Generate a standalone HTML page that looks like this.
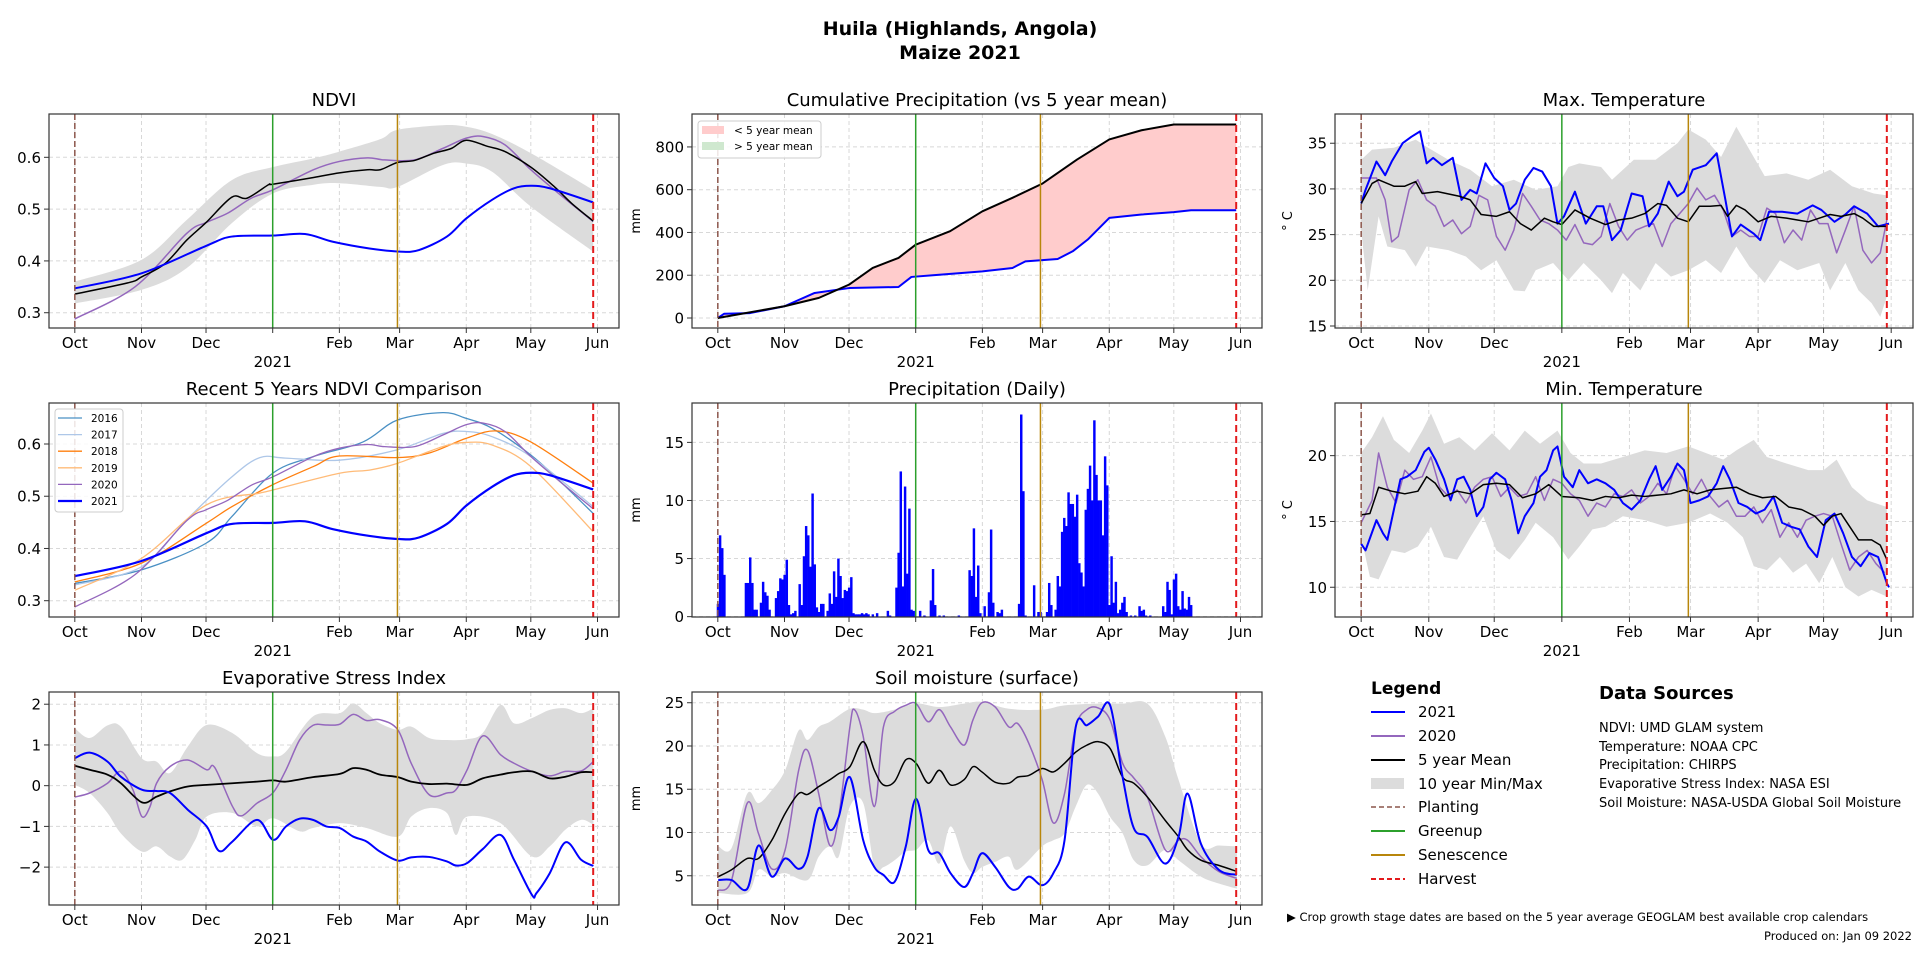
<!DOCTYPE html>
<html><head><meta charset="utf-8"><style>
html,body{margin:0;padding:0;background:#fff;}
svg{display:block;font-family:"DejaVu Sans","Liberation Sans",sans-serif;}
</style></head><body>
<svg id="fig" width="1920" height="960" viewBox="0 0 1920 960" xmlns="http://www.w3.org/2000/svg">
<rect width="1920" height="960" fill="#fff"/>
<text x="960" y="35" text-anchor="middle" font-weight="bold" font-size="19">Huila (Highlands, Angola)</text>
<text x="960" y="59" text-anchor="middle" font-weight="bold" font-size="19">Maize 2021</text>
<g id="panels"></g>
<g font-size="15">
<text x="1371" y="694" font-weight="bold" font-size="17">Legend</text>
<line x1="1371" x2="1405" y1="712" y2="712" stroke="#0000ff" stroke-width="2"/><text x="1418" y="717">2021</text>
<line x1="1371" x2="1405" y1="736" y2="736" stroke="#9467bd" stroke-width="2"/><text x="1418" y="741">2020</text>
<line x1="1371" x2="1405" y1="760" y2="760" stroke="#000" stroke-width="2"/><text x="1418" y="765">5 year Mean</text>
<rect x="1371" y="778" width="33" height="11" fill="#dcdcdc"/><text x="1418" y="789">10 year Min/Max</text>
<line x1="1371" x2="1405" y1="807" y2="807" stroke="#8c564b" stroke-width="1.5" stroke-dasharray="5,3"/><text x="1418" y="812">Planting</text>
<line x1="1371" x2="1405" y1="831" y2="831" stroke="#2ca02c" stroke-width="2"/><text x="1418" y="836">Greenup</text>
<line x1="1371" x2="1405" y1="855" y2="855" stroke="#b8860b" stroke-width="2"/><text x="1418" y="860">Senescence</text>
<line x1="1371" x2="1405" y1="879" y2="879" stroke="#e31a1c" stroke-width="2" stroke-dasharray="5,3"/><text x="1418" y="884">Harvest</text>
</g>
<g font-size="13">
<text x="1599" y="699" font-weight="bold" font-size="18">Data Sources</text>
<text x="1599" y="732">NDVI: UMD GLAM system</text>
<text x="1599" y="751">Temperature: NOAA CPC</text>
<text x="1599" y="769">Precipitation: CHIRPS</text>
<text x="1599" y="788">Evaporative Stress Index: NASA ESI</text>
<text x="1599" y="807">Soil Moisture: NASA-USDA Global Soil Moisture</text>
</g>
<text x="1287" y="921" font-size="11.5">▶ Crop growth stage dates are based on the 5 year average GEOGLAM best available crop calendars</text>
<text x="1912" y="940" font-size="11.5" text-anchor="end">Produced on: Jan 09 2022</text>
</svg>
<script>
// ---------------- data (day = days since Oct 1 2020) ----------------
const monthTickDays=[0,31,61,92,123,151,182,212,243];
const monthTickLabels=["Oct","Nov","Dec","","Feb","Mar","Apr","May","Jun"];
const eventDays=[0,92,150,241];

const ndviDays2021=[0,31,61,73,92,107,120,137,151,160,173,182,194,204,212,221,241];
const ndvi2021=[0.347,0.376,0.429,0.447,0.449,0.452,0.437,0.424,0.418,0.421,0.447,0.482,0.518,0.540,0.545,0.540,0.513];
const ndviDaysMean=[0,25,31,42,52,61,73,80,90,92,111,123,136,142,150,158,167,175,182,192,200,212,223,231,241];
const ndviMean=[0.336,0.358,0.369,0.395,0.44,0.474,0.523,0.521,0.547,0.548,0.561,0.570,0.576,0.576,0.590,0.594,0.608,0.617,0.633,0.621,0.611,0.581,0.543,0.511,0.477];
const ndviDays2020=[0,28,52,61,71,82,92,111,123,136,144,158,171,182,190,200,212,225,241];
const ndvi2020=[0.288,0.350,0.453,0.474,0.492,0.521,0.537,0.576,0.592,0.599,0.595,0.595,0.617,0.637,0.640,0.624,0.576,0.530,0.476];
const ndviBandDays=[0,31,52,73,92,111,123,142,150,171,182,194,212,241];
const ndviMax=[0.360,0.402,0.479,0.556,0.581,0.598,0.611,0.635,0.653,0.662,0.659,0.645,0.608,0.537];
const ndviMin=[0.318,0.344,0.386,0.473,0.530,0.547,0.550,0.543,0.543,0.585,0.588,0.572,0.505,0.418];

const n16Days=[0,31,61,73,92,111,134,150,171,182,194,212,225,241];
const n2016=[0.333,0.359,0.410,0.461,0.544,0.576,0.604,0.646,0.660,0.649,0.630,0.579,0.531,0.467];
const n17Days=[0,31,52,73,86,98,123,150,171,182,194,212,241];
const n2017=[0.33,0.365,0.455,0.537,0.574,0.573,0.569,0.589,0.620,0.624,0.614,0.576,0.480];
const n18Days=[0,31,61,73,92,111,123,150,165,182,196,212,241];
const n2018=[0.336,0.372,0.448,0.480,0.522,0.557,0.577,0.574,0.583,0.611,0.625,0.604,0.525];
const n19Days=[0,31,61,86,92,123,137,150,171,182,194,212,241];
const n2019=[0.32,0.381,0.483,0.506,0.512,0.544,0.550,0.563,0.595,0.603,0.598,0.557,0.432];

const cumDaysMean=[0,31,47,61,72,84,92,108,123,137,151,167,182,197,212,241];
const cumMean=[0,55,94,156,234,281,343,406,499,562,629,741,835,878,905,905];
const cumDays2021=[0,3,15,31,45,61,84,90,100,123,137,143,158,165,172,182,197,212,220,241];
const cum2021=[0,20,23,55,117,140,145,192,200,218,234,265,276,312,367,468,484,495,504,504];

const rainDays=[0,1,2,3,13,14,15,16,17,18,20,21,22,23,24,27,28,29,30,31,32,33,34,35,36,38,39,40,41,42,43,44,45,46,47,48,49,51,52,53,54,55,56,57,58,59,60,61,62,63,64,65,66,67,68,69,70,72,74,79,80,83,84,85,86,87,88,89,90,91,94,96,99,100,101,103,105,112,117,118,119,120,121,122,124,126,127,128,130,131,132,140,141,142,143,147,149,150,153,154,155,157,158,159,160,161,162,163,164,165,166,167,168,169,170,171,172,173,174,175,176,177,178,179,180,181,182,183,184,185,186,187,188,189,190,192,194,196,197,198,199,201,207,208,209,210,211,212,213,214,215,216,217,218,219,220];
const rain=[1.1,7.0,5.9,3.6,2.9,2.9,5.1,2.9,0.6,0.6,1.2,3.0,2.1,1.8,0.6,1.6,2.2,3.3,3.2,3.6,4.9,1.0,0.2,0.3,0.5,2.8,1.0,5.2,7.8,7.0,4.3,10.6,4.5,0.8,0.4,1.1,1.1,0.5,2.0,1.1,3.9,1.7,5.0,3.5,1.6,2.3,2.2,2.5,3.4,0.3,0.2,0.2,0.2,0.3,0.2,0.3,0.2,0.2,0.3,0.5,0.1,2.5,5.5,12.5,2.6,11.2,3.7,9.3,0.6,0.5,0.5,0.1,1.4,4.1,1.0,0.1,0.1,0.1,4.0,3.5,7.6,1.7,4.4,0.3,0.9,2.1,7.5,1.2,0.4,0.3,0.6,1.1,17.4,10.8,0.1,2.7,0.4,0.4,0.4,2.9,1.0,0.6,3.5,2.6,7.3,8.5,7.8,10.7,9.7,9.7,8.6,10.5,4.6,3.8,2.6,9.2,11.0,13.0,10.0,16.9,12.2,10.0,10.0,7.0,13.8,11.3,1.0,5.2,1.2,3.0,0.3,0.6,1.2,1.7,0.4,0.1,0.1,0.9,0.5,0.6,0.1,0.1,0.9,0.4,3.0,2.3,0.2,3.2,3.7,0.9,0.6,2.2,0.7,0.6,1.7,1.0];

const tmaxDays2021=[0,2,7,11,14,19,23,27,30,33,37,42,46,50,53,57,61,65,68,71,75,79,83,87,90,93,98,103,108,111,115,119,124,129,132,136,141,145,148,152,158,163,167,170,174,180,183,187,193,200,207,211,217,222,226,232,237,242];
const tmax2021=[28.4,29.9,33.0,31.5,33,35,35.7,36.3,32.8,33.4,32.6,33.4,28.8,29.9,29.5,32.8,31.2,30.3,27.7,28.4,31,32.3,31.9,30.3,26.2,27,29.7,26.2,28.1,28.1,24.4,25.5,29.5,29.2,25.9,27.3,30.8,29.2,29.7,32.1,32.6,33.9,28.8,24.8,26.1,25.1,24.4,27.5,27.5,27.3,28.2,27.7,26.4,27.2,28.1,27.3,25.9,26.2];
const tmaxDays2020=[0,7,11,14,17,22,26,30,34,38,42,46,50,54,58,62,66,70,74,78,82,86,90,94,98,102,106,110,114,118,122,126,130,134,138,142,146,150,154,158,162,166,170,174,178,182,186,190,194,198,202,206,210,214,218,222,226,230,234,238,241];
const tmax2020=[31.2,31.2,28.8,24.2,24.8,29.9,31,28.8,28.1,25.9,26.6,25.1,25.9,29.3,28.8,24.8,23.3,25.5,29.5,28.1,26.6,26.2,25.5,24.4,26.1,24.1,23.9,24.8,28.4,25.9,24.4,25.5,25.9,26.2,23.7,26.2,27.3,28.4,30.1,28.8,29.3,27.7,24.8,25.5,24.8,24.8,27.9,27.3,24.1,25.5,24.4,27.7,26.2,26.2,23.0,25.5,28.1,23.3,21.9,23.0,26.6];
const tmaxDaysMean=[0,5,8,15,20,25,28,35,45,50,55,62,68,73,78,84,88,92,98,105,112,118,124,130,136,140,145,150,155,160,165,168,172,176,182,188,195,200,205,210,215,220,226,230,235,241];
const tmaxMean=[28.4,30.6,31,30.3,30.3,30.8,29.5,29.7,29.2,28.8,27.2,27,27.5,26.2,25.5,26.8,26.4,26.1,27.7,26.8,26.1,26.6,26.8,27.3,28.4,28.2,26.8,26.4,28.1,28.1,28.2,27,28.2,27.7,26.4,27,26.8,26.6,26.4,26.8,27.2,27,27.3,26.8,25.9,25.9];
const tmaxBandDaysHi=[0,5,15,25,30,40,50,60,70,80,90,95,100,110,115,125,135,145,150,158,165,172,178,185,195,205,215,225,235,241];
const tmaxHi=[33.2,34.3,34.5,35.4,34.6,33.2,32.1,30.3,31,29.9,30.3,32.4,32.8,32.4,31,33.2,33.2,35,36.5,35.4,33.5,36.8,34.3,31.4,31.7,31,32.1,30.3,29.5,29.3];
const tmaxBandDaysLo=[0,3,8,12,20,25,30,40,48,55,62,70,75,80,88,95,102,110,115,120,128,135,142,150,158,165,172,178,185,192,200,210,215,222,228,234,238,241];
const tmaxLo=[25.5,18.9,27,23.7,23.3,21.5,23.7,23.3,22.6,21.1,22.2,18.9,18.8,21.1,21.9,20,21.9,20,18.6,20.8,18.9,21.9,20.4,21.1,22.2,20.8,23.7,21.5,19.7,22.2,21.1,21.9,18.9,21.9,18.9,17.5,16,18.2];

const tminDays2021=[0,2,7,10,12,15,18,21,25,29,31,34,38,41,44,47,50,53,56,59,62,66,69,72,75,79,82,85,88,90,93,97,100,104,108,112,116,120,124,128,132,135,138,142,145,148,151,155,159,163,166,169,173,177,181,185,189,193,197,201,205,209,213,217,221,225,229,233,237,241,242];
const tmin2021=[13.3,12.8,15.1,14.1,13.6,15.9,18.2,18.4,18.9,20.3,20.6,19.7,18.2,16.6,18.2,18.4,17.4,15.4,16.1,18.2,18.7,18.2,16.6,14.1,15.4,16.4,18.4,18.9,20.4,20.7,18.4,17.6,18.9,17.9,18.2,17.9,17.4,16.4,15.9,16.6,18.2,19.2,17.4,18.4,19.4,18.9,16.4,16.6,16.9,17.9,19.2,18.2,16.4,16.1,15.6,15.9,16.9,14.9,14.6,14.4,13.1,12.3,15.1,15.6,14.1,12.3,11.6,12.6,12.3,10.3,10];
const tminDays2020=[0,5,8,12,16,20,24,28,32,36,40,44,48,52,56,60,64,68,72,76,80,84,88,92,96,100,104,108,112,116,120,124,128,132,136,140,144,148,152,156,160,164,168,172,176,180,184,188,192,196,200,204,208,212,216,220,224,228,232,236,240];
const tmin2020=[14.9,16.6,20.2,17.6,16.4,18.9,18.2,18.4,19.9,17.6,16.9,17.4,16.4,17.6,18.2,18.4,16.9,17.6,16.9,17.1,18.4,16.6,18.2,17.9,17.1,16.6,15.4,16.4,16.1,17.1,16.9,17.4,16.4,16.9,17.9,17.1,19.2,18.2,17.1,18.2,16.9,16.1,16.6,15.4,15.4,16.1,14.9,15.9,13.8,14.9,13.8,15.1,15.4,15.6,15.4,13.3,11.3,12.3,12.8,11.8,11.1];
const tminDaysMean=[0,4,8,14,20,26,30,34,38,44,50,56,62,68,74,80,86,92,100,106,112,118,124,130,136,142,148,154,160,166,172,178,184,190,196,202,208,212,216,220,224,228,234,238,241];
const tminMean=[15.5,15.6,17.6,17.3,17.1,17.3,18.4,17.9,16.9,17.3,17.1,17.8,17.9,17.8,16.8,17.1,17.8,16.9,16.8,16.6,16.9,16.8,17,16.9,17,17.1,17.4,17.1,17.4,17.5,17.6,17.1,16.8,16.9,16.1,15.9,15.4,14.7,15.4,15.6,14.6,13.6,13.6,13.2,12.1];
const tminBandDaysHi=[0,5,10,15,22,28,32,38,45,52,60,68,75,82,90,96,102,110,120,130,140,150,158,166,172,180,186,195,205,212,218,225,232,241];
const tminHi=[20.2,21.4,23,21.2,20.2,21.9,23.2,20.9,21.4,20.4,21.7,20.4,21.9,20.9,21.9,20.2,19.4,19.4,19.9,20.4,20.2,20.7,20.2,19.7,20.4,21.2,19.9,19.4,18.9,18.9,19.7,17.6,16.6,16.1];
const tminBandDaysLo=[0,4,8,14,20,26,32,38,44,50,56,62,68,75,80,88,95,100,106,112,120,130,140,150,160,168,175,180,186,192,198,204,210,216,222,228,234,241];
const tminLo=[13.8,10.8,10.6,12.8,12.6,13.1,14.6,12.3,12.1,13.8,15.4,12.8,12.1,13.6,14.9,13.8,12.1,13.1,14.4,14.6,15.4,15.1,14.6,14.9,15.6,14.9,13.8,11.6,11.3,12.3,11.1,11.8,10.3,12.3,10,9.3,9.8,9.3];

const esiDays2021=[0,6.9,15.2,21.4,31.2,38,44.3,52.5,61.3,67,73.3,84.7,92.2,98.2,104.5,110.7,116.9,123.2,129.4,135.6,141.9,150.2,156.4,164.7,173,177.2,182.4,189.6,197.9,204.2,212.5,214.6,220.8,228.1,235.4,241.1];
const esi2021=[0.675,0.81,0.59,0.22,-0.10,-0.13,-0.18,-0.59,-1.0,-1.6,-1.37,-0.84,-1.33,-1.0,-0.81,-0.84,-1.0,-1.04,-1.25,-1.37,-1.62,-1.84,-1.76,-1.75,-1.86,-1.96,-1.90,-1.56,-1.21,-1.82,-2.68,-2.64,-2.15,-1.39,-1.82,-1.97];
const esiDaysMean=[0,6.9,15.2,21.4,31.2,38,44.3,52.5,61.3,73.3,84.7,92.2,98.2,110.7,123.2,129.4,135.6,141.9,150.2,156.4,164.7,173,182.4,189.6,197.9,204.2,212.5,220.8,228.1,235.4,241.1];
const esiMean=[0.49,0.39,0.27,0.06,-0.41,-0.27,-0.14,-0.02,0.02,0.06,0.10,0.13,0.10,0.21,0.29,0.43,0.39,0.27,0.21,0.10,0.04,0.05,0.02,0.18,0.27,0.33,0.35,0.18,0.22,0.33,0.33];
const esiDays2020=[0,6.9,15.2,21.4,27,31.2,35,38,44.3,52.5,61.3,65,73.3,77.5,84.7,92.2,98.2,104.5,110.7,116.9,123.2,129.4,135.6,141.9,150.2,156.4,164.7,173,177.2,182.4,189.6,197.9,204.2,212.5,220.8,228.1,235.4,241.1];
const esi2020=[-0.28,-0.18,0.06,0.35,-0.10,-0.76,-0.51,0.06,0.47,0.63,0.39,0.45,-0.51,-0.74,-0.43,-0.17,0.39,1.12,1.48,1.49,1.51,1.75,1.60,1.62,1.37,0.55,-0.22,-0.18,-0.10,0.39,1.22,0.76,0.55,0.35,0.24,0.35,0.36,0.59];
const esiBandDaysHi=[0,6.9,15.2,21.4,31.2,38,44.3,52.5,61.3,73.3,84.7,92.2,98.2,110.7,123.2,129.4,135.6,141.9,150.2,156.4,164.7,173,182.4,189.6,197.9,204.2,212.5,220.8,228.1,235.4,241.1];
const esiHi=[1.41,1.17,1.48,1.45,0.67,0.59,0.31,0.96,1.49,1.29,0.80,0.72,0.84,1.70,1.78,2.02,1.78,1.53,1.37,1.45,1.17,1.12,1.14,1.29,1.98,1.53,1.66,1.86,1.90,1.78,1.90];
const esiBandDaysLo=[0,6.9,15.2,21.4,31.2,38,44.3,50,56,61.3,73.3,84.7,92.2,104.5,110.7,123.2,135.6,150.2,156.4,164.7,173,177.2,182.4,197.9,212.5,220.8,228.1,235.4,241.1];
const esiLo=[0.02,-0.18,-0.67,-1.17,-1.62,-1.49,-1.74,-1.82,-1.33,-0.76,-0.67,-1.0,-0.80,-1.12,-1.04,-0.92,-1.04,-1.25,-0.76,-0.55,-0.67,-1.21,-0.76,-0.92,-1.74,-1.49,-1.08,-0.84,-0.96];

const soilDays=[0.2,6.4,13.7,18.9,25.1,31.3,37.6,41.7,46.9,52.1,56.2,61.4,67.6,72.8,77,82.2,87.4,92.2,97.8,103,108.2,114.5,118.6,122.8,129,135.3,139.4,144.6,150.8,156,161.2,166.4,171.6,176.8,182.4,188.2,193.4,199.7,208,214.2,218.4,224.6,232.9,241.3];
const soil2021=[4.5,4.5,3.5,8.5,4.9,7.0,5.8,7.2,12.8,10.3,11.8,16.4,9.1,6.0,5.1,4.3,8.4,13.9,8.0,7.6,5.3,3.7,5.3,7.6,6.0,3.7,3.5,4.9,3.9,5.3,9.1,22.2,22.4,23.4,24.7,16.4,10.5,9.5,6.4,9.5,14.5,8.7,5.7,5.1];
const soilMean=[4.9,5.7,7.0,7.0,9.1,12.2,14.5,14.4,15.3,16.1,16.8,17.6,20.5,17.2,15.5,15.9,18.4,18.0,15.7,17.2,15.5,16.1,17.6,17.0,15.8,15.7,16.4,16.6,17.4,17.0,18.0,19.3,20.1,20.5,19.7,16.4,15.7,14.1,11.4,9.5,8.0,6.8,6.2,5.5];
const soilDays2020=[0.2,6.4,13.7,18.9,25.1,31.3,37.6,41.7,46.9,52.1,56.2,61.4,63.5,67.6,72.8,77,82.2,87.4,92.2,97.8,103,108.2,114.5,118.6,122.8,129,135.3,139.4,144.6,150.8,156,161.2,166.4,171.6,176.8,182.4,188.2,193.4,199.7,208,214.2,218.4,224.6,232.9,241.3];
const soil2020=[3.3,4.5,13.4,9.9,5.8,8.0,17.2,19.5,14.5,8.5,11.8,22.2,24.2,21.1,13.0,22.2,24.0,24.7,24.9,22.8,24.2,22.2,20.1,23.0,25.0,24.5,22.2,22.6,20.3,16.1,11.1,14.5,22.2,24.2,24.4,23.0,18.0,16.3,14.1,8.0,9.1,9.1,7.2,5.5,4.7];
const soilBandDaysHi=[0.2,6.4,13.7,18.9,25.1,31.3,37.6,41.7,46.9,52.1,61.4,67.6,72.8,82.2,92.2,103,114.5,122.8,135.3,150.8,161.2,176.8,188.2,199.7,208,214.2,224.6,232.9,241.3];
const soilHi=[8.4,8.2,14.5,13.4,14.9,17.2,21.8,20.7,22.2,22.8,24.3,24.2,23.8,24.2,24.9,24.5,24.9,25.1,24.3,24.2,24.7,24.9,24.9,24.9,21.1,16.1,8.7,8.5,8.4];
const soilBandDaysLo=[0.2,13.7,18.9,25.1,31.3,41.7,46.9,52.1,56.2,61.4,67.6,72.8,77,82.2,87.4,92.2,97.8,103,108.2,114.5,118.6,122.8,129,135.3,139.4,150.8,156,161.2,166.4,171.6,176.8,182.4,188.2,193.4,199.7,208,214.2,224.6,232.9,241.3];
const soilLo=[3.0,3.0,5.7,4.9,5.3,4.5,7.2,8.4,7.2,13.0,13.4,6.0,6.0,6.8,7.8,8.0,9.1,6.4,10.7,6.8,5.3,6.0,6.6,7.2,5.7,8.4,9.1,9.9,13.0,15.5,14.5,11.8,9.9,6.8,6.2,8.0,6.8,4.9,4.1,3.5];

// ---------------- drawing ----------------
const NS="http://www.w3.org/2000/svg";
const root=document.getElementById('panels');
const X0=-12, X1=253;
function mk(tag,parent){const e=document.createElementNS(NS,tag);parent.appendChild(e);return e;}
function smoothPath(pts){
  if(pts.length<2)return '';
  let d='M'+pts[0][0].toFixed(2)+','+pts[0][1].toFixed(2);
  for(let i=0;i<pts.length-1;i++){
    const p0=pts[i-1]||pts[i],p1=pts[i],p2=pts[i+1],p3=pts[i+2]||p2;
    const c1=[p1[0]+(p2[0]-p0[0])/6,p1[1]+(p2[1]-p0[1])/6];
    const c2=[p2[0]-(p3[0]-p1[0])/6,p2[1]-(p3[1]-p1[1])/6];
    d+='C'+c1[0].toFixed(2)+','+c1[1].toFixed(2)+' '+c2[0].toFixed(2)+','+c2[1].toFixed(2)+' '+p2[0].toFixed(2)+','+p2[1].toFixed(2);
  }
  return d;
}
function linePath(pts){return pts.map((p,i)=>(i?'L':'M')+p[0].toFixed(2)+','+p[1].toFixed(2)).join('');}

function makePanel(cfg){
  const g=mk('g',root);
  
  
  const b=cfg.box;
  const sx=d=>b.x+(d-X0)/(X1-X0)*b.w;
  const sy=v=>b.y+b.h-(v-cfg.ydom[0])/(cfg.ydom[1]-cfg.ydom[0])*b.h;
  const clipId='clip-'+cfg.name;
  const cp=mk('clipPath',g);cp.setAttribute('id',clipId);
  const cr=mk('rect',cp);cr.setAttribute('x',b.x);cr.setAttribute('y',b.y);cr.setAttribute('width',b.w);cr.setAttribute('height',b.h);
  // grid
  const grid=mk('g',g);
  
  
  monthTickDays.forEach(d=>{const l=mk('line',grid);l.setAttribute('x1',sx(d));l.setAttribute('x2',sx(d));l.setAttribute('y1',b.y);l.setAttribute('y2',b.y+b.h);l.setAttribute('stroke','#d8d8d8');l.setAttribute('stroke-dasharray','4,3');});
  cfg.yticks.forEach(v=>{const l=mk('line',grid);l.setAttribute('x1',b.x);l.setAttribute('x2',b.x+b.w);l.setAttribute('y1',sy(v));l.setAttribute('y2',sy(v));l.setAttribute('stroke','#d8d8d8');l.setAttribute('stroke-dasharray','4,3');});
  const plot=mk('g',g);plot.setAttribute('clip-path','url(#'+clipId+')');
  cfg.draw(plot,sx,sy);
  // event lines
  const evColors=['#8c564b','#2ca02c','#b8860b','#e31a1c'];
  const evNames=['planting-line','greenup-line','senescence-line','harvest-line'];
  eventDays.forEach((d,i)=>{
    const l=mk('line',plot);
    
    
    l.setAttribute('x1',sx(d));l.setAttribute('x2',sx(d));l.setAttribute('y1',b.y);l.setAttribute('y2',b.y+b.h);
    l.setAttribute('stroke',evColors[i]);
    l.setAttribute('stroke-width',i==3?2:1.5);
    if(i==0)l.setAttribute('stroke-dasharray','6,3');
    if(i==3)l.setAttribute('stroke-dasharray','7,4');
  });
  // frame
  const fr=mk('rect',g);
  
  
  fr.setAttribute('x',b.x);fr.setAttribute('y',b.y);fr.setAttribute('width',b.w);fr.setAttribute('height',b.h);fr.setAttribute('fill','none');fr.setAttribute('stroke','#333');fr.setAttribute('stroke-width','1.2');
  // x ticks
  monthTickDays.forEach((d,i)=>{
    const t=mk('line',g);t.setAttribute('x1',sx(d));t.setAttribute('x2',sx(d));t.setAttribute('y1',b.y+b.h);t.setAttribute('y2',b.y+b.h+5);t.setAttribute('stroke','#333');
    if(monthTickLabels[i]){
      const tx=mk('text',g);
      
      
      tx.setAttribute('x',sx(d));tx.setAttribute('y',b.y+b.h+20);tx.setAttribute('text-anchor','middle');tx.setAttribute('font-size','15');tx.textContent=monthTickLabels[i];
    }
  });
  const yr=mk('text',g);
  
  
  yr.setAttribute('x',sx(92));yr.setAttribute('y',b.y+b.h+39);yr.setAttribute('text-anchor','middle');yr.setAttribute('font-size','15');yr.textContent='2021';
  cfg.yticks.forEach((v,i)=>{
    const t=mk('line',g);t.setAttribute('x1',b.x-5);t.setAttribute('x2',b.x);t.setAttribute('y1',sy(v));t.setAttribute('y2',sy(v));t.setAttribute('stroke','#333');
    const tx=mk('text',g);
    
    
    tx.setAttribute('x',b.x-8);tx.setAttribute('y',sy(v)+5.5);tx.setAttribute('text-anchor','end');tx.setAttribute('font-size','15');tx.textContent=cfg.ytickLabels[i];
  });
  const ti=mk('text',g);
  
  
  ti.setAttribute('x',b.x+b.w/2);ti.setAttribute('y',b.y-8);ti.setAttribute('text-anchor','middle');ti.setAttribute('font-size','18');ti.textContent=cfg.title;
  if(cfg.ylabel){
    const yl=mk('text',g);
    
    
    const lx=b.x-cfg.ylabelOff, ly=b.y+b.h/2;
    yl.setAttribute('x',lx);yl.setAttribute('y',ly);yl.setAttribute('text-anchor','middle');yl.setAttribute('font-size','13');
    yl.setAttribute('transform','rotate(-90 '+lx+' '+ly+')');yl.textContent=cfg.ylabel;
  }
  return {g,sx,sy};
}
function pts(days,vals,sx,sy){return days.map((d,i)=>[sx(d),sy(vals[i])]);}
function addLine(parent,name,days,vals,sx,sy,color,w,smooth){
  const p=mk('path',parent);
  
  
  const P=pts(days,vals,sx,sy);
  p.setAttribute('d',smooth?smoothPath(P):linePath(P));
  p.setAttribute('fill','none');p.setAttribute('stroke',color);p.setAttribute('stroke-width',w);p.setAttribute('stroke-linejoin','round');
  return p;
}
function addBand(parent,name,dHi,hi,dLo,lo,sx,sy,smooth){
  const p=mk('path',parent);
  
  
  const top=pts(dHi,hi,sx,sy), bot=pts(dLo,lo,sx,sy).reverse();
  let d=(smooth?smoothPath(top):linePath(top));
  d+=(smooth?smoothPath(bot):linePath(bot)).replace(/^M/,'L')+'Z';
  p.setAttribute('d',d);p.setAttribute('fill','#dcdcdc');p.setAttribute('stroke','none');
}
const C1={x:49,w:570},C2={x:692,w:570},C3={x:1335,w:578};
const R1={y:114,h:214},R2={y:403,h:214},R3={y:692,h:213};
const box=(c,r)=>({x:c.x,w:c.w,y:r.y,h:r.h});

makePanel({name:'ndvi-panel',title:'NDVI',box:box(C1,R1),ydom:[0.2705,0.6836],yticks:[0.3,0.4,0.5,0.6],ytickLabels:['0.3','0.4','0.5','0.6'],
 draw:(g,sx,sy)=>{
  addBand(g,'ndvi-minmax-band',ndviBandDays,ndviMax,ndviBandDays,ndviMin,sx,sy,true);
  addLine(g,'ndvi-2020-line',ndviDays2020,ndvi2020,sx,sy,'#9467bd',1.5,true);
  addLine(g,'ndvi-mean-line',ndviDaysMean,ndviMean,sx,sy,'#000',1.5,true);
  addLine(g,'ndvi-2021-line',ndviDays2021,ndvi2021,sx,sy,'#0000ff',2,true);
 }});

makePanel({name:'cum-precip-panel',title:'Cumulative Precipitation (vs 5 year mean)',box:box(C2,R1),ydom:[-46.8,954],yticks:[0,200,400,600,800],ytickLabels:['0','200','400','600','800'],ylabel:'mm',ylabelOff:52,
 draw:(g,sx,sy)=>{
  const f=mk('path',g);
  
  
  const top=pts(cumDaysMean,cumMean,sx,sy), bot=pts(cumDays2021,cum2021,sx,sy).reverse();
  f.setAttribute('d',linePath(top)+linePath(bot).replace(/^M/,'L')+'Z');f.setAttribute('fill','#ffcccc');
  addLine(g,'cum-precip-2021-line',cumDays2021,cum2021,sx,sy,'#0000ff',2,false);
  addLine(g,'cum-precip-mean-line',cumDaysMean,cumMean,sx,sy,'#000',2,false);
 }});

makePanel({name:'max-temp-panel',title:'Max. Temperature',box:box(C3,R1),ydom:[14.78,38.2],yticks:[15,20,25,30,35],ytickLabels:['15','20','25','30','35'],ylabel:'° C',ylabelOff:43,
 draw:(g,sx,sy)=>{
  addBand(g,'max-temp-minmax-band',tmaxBandDaysHi,tmaxHi,tmaxBandDaysLo,tmaxLo,sx,sy,false);
  addLine(g,'max-temp-2020-line',tmaxDays2020,tmax2020,sx,sy,'#9467bd',1.5,false);
  addLine(g,'max-temp-2021-line',tmaxDays2021,tmax2021,sx,sy,'#0000ff',2,false);
  addLine(g,'max-temp-mean-line',tmaxDaysMean,tmaxMean,sx,sy,'#000',1.5,false);
 }});

makePanel({name:'ndvi-compare-panel',title:'Recent 5 Years NDVI Comparison',box:box(C1,R2),ydom:[0.2688,0.6785],yticks:[0.3,0.4,0.5,0.6],ytickLabels:['0.3','0.4','0.5','0.6'],
 draw:(g,sx,sy)=>{
  addLine(g,'ndvi-2016-line',n16Days,n2016,sx,sy,'#4a90c4',1.3,true);
  addLine(g,'ndvi-2017-line',n17Days,n2017,sx,sy,'#aec7e8',1.3,true);
  addLine(g,'ndvi-2018-line',n18Days,n2018,sx,sy,'#ff7f0e',1.3,true);
  addLine(g,'ndvi-2019-line',n19Days,n2019,sx,sy,'#ffbb78',1.3,true);
  addLine(g,'ndvi-2020-compare-line',ndviDays2020,ndvi2020,sx,sy,'#9467bd',1.3,true);
  addLine(g,'ndvi-2021-compare-line',ndviDays2021,ndvi2021,sx,sy,'#0000ff',2.2,true);
 }});

makePanel({name:'daily-precip-panel',title:'Precipitation (Daily)',box:box(C2,R2),ydom:[-0.03,18.39],yticks:[0,5,10,15],ytickLabels:['0','5','10','15'],ylabel:'mm',ylabelOff:52,
 draw:(g,sx,sy)=>{
  rainDays.forEach((d,i)=>{
    const r=mk('rect',g);
    
    
    const x0=sx(d-0.5), x1=sx(d+0.5);
    r.setAttribute('x',x0);r.setAttribute('width',x1-x0+0.3);r.setAttribute('y',sy(rain[i]));r.setAttribute('height',sy(0)-sy(rain[i]));r.setAttribute('fill','#0000ff');
  });
 }});

makePanel({name:'min-temp-panel',title:'Min. Temperature',box:box(C3,R2),ydom:[7.74,24.0],yticks:[10,15,20],ytickLabels:['10','15','20'],ylabel:'° C',ylabelOff:43,
 draw:(g,sx,sy)=>{
  addBand(g,'min-temp-minmax-band',tminBandDaysHi,tminHi,tminBandDaysLo,tminLo,sx,sy,false);
  addLine(g,'min-temp-2020-line',tminDays2020,tmin2020,sx,sy,'#9467bd',1.5,false);
  addLine(g,'min-temp-2021-line',tminDays2021,tmin2021,sx,sy,'#0000ff',2,false);
  addLine(g,'min-temp-mean-line',tminDaysMean,tminMean,sx,sy,'#000',1.5,false);
 }});

makePanel({name:'esi-panel',title:'Evaporative Stress Index',box:box(C1,R3),ydom:[-2.93,2.30],yticks:[-2,-1,0,1,2],ytickLabels:['−2','−1','0','1','2'],
 draw:(g,sx,sy)=>{
  addBand(g,'esi-minmax-band',esiBandDaysHi,esiHi,esiBandDaysLo,esiLo,sx,sy,true);
  addLine(g,'esi-2020-line',esiDays2020,esi2020,sx,sy,'#9467bd',1.5,true);
  addLine(g,'esi-mean-line',esiDaysMean,esiMean,sx,sy,'#000',1.8,true);
  addLine(g,'esi-2021-line',esiDays2021,esi2021,sx,sy,'#0000ff',2,true);
 }});

makePanel({name:'soil-moisture-panel',title:'Soil moisture (surface)',box:box(C2,R3),ydom:[1.62,26.24],yticks:[5,10,15,20,25],ytickLabels:['5','10','15','20','25'],ylabel:'mm',ylabelOff:52,
 draw:(g,sx,sy)=>{
  addBand(g,'soil-minmax-band',soilBandDaysHi,soilHi,soilBandDaysLo,soilLo,sx,sy,true);
  addLine(g,'soil-2020-line',soilDays2020,soil2020,sx,sy,'#9467bd',1.5,true);
  addLine(g,'soil-mean-line',soilDays,soilMean,sx,sy,'#000',1.5,true);
  addLine(g,'soil-2021-line',soilDays,soil2021,sx,sy,'#0000ff',2,true);
 }});

// inset legends
(function(){
  const svg=document.getElementById('fig');
  const lg=mk('g',svg);
  
  
  const bx=mk('rect',lg);bx.setAttribute('x',698);bx.setAttribute('y',121);bx.setAttribute('width',123);bx.setAttribute('height',37);bx.setAttribute('rx',3);bx.setAttribute('fill','#fff');bx.setAttribute('fill-opacity','0.85');bx.setAttribute('stroke','#ccc');
  const labs=['< 5 year mean','> 5 year mean'], cols=['#ffcccc','#cfe8cf'];
  labs.forEach((t,i)=>{
    const r=mk('rect',lg);r.setAttribute('x',702);r.setAttribute('y',126+i*16);r.setAttribute('width',22);r.setAttribute('height',8);r.setAttribute('fill',cols[i]);
    const tx=mk('text',lg);
    
    
    tx.setAttribute('x',734);tx.setAttribute('y',134+i*16);tx.setAttribute('font-size','10.5');tx.textContent=t;
  });
  const lg2=mk('g',svg);
  
  
  const b2=mk('rect',lg2);b2.setAttribute('x',55);b2.setAttribute('y',409);b2.setAttribute('width',68);b2.setAttribute('height',103);b2.setAttribute('rx',3);b2.setAttribute('fill','#fff');b2.setAttribute('fill-opacity','0.85');b2.setAttribute('stroke','#ccc');
  const yrs=['2016','2017','2018','2019','2020','2021'], yc=['#4a90c4','#aec7e8','#ff7f0e','#ffbb78','#9467bd','#0000ff'];
  yrs.forEach((t,i)=>{
    const y=418+i*16.6;
    const l=mk('line',lg2);l.setAttribute('x1',58);l.setAttribute('x2',82);l.setAttribute('y1',y);l.setAttribute('y2',y);l.setAttribute('stroke',yc[i]);l.setAttribute('stroke-width',i==5?2.2:1.3);
    const tx=mk('text',lg2);
    
    
    tx.setAttribute('x',91);tx.setAttribute('y',y+4);tx.setAttribute('font-size','10.5');tx.textContent=t;
  });
})();
</script>
</body></html>
